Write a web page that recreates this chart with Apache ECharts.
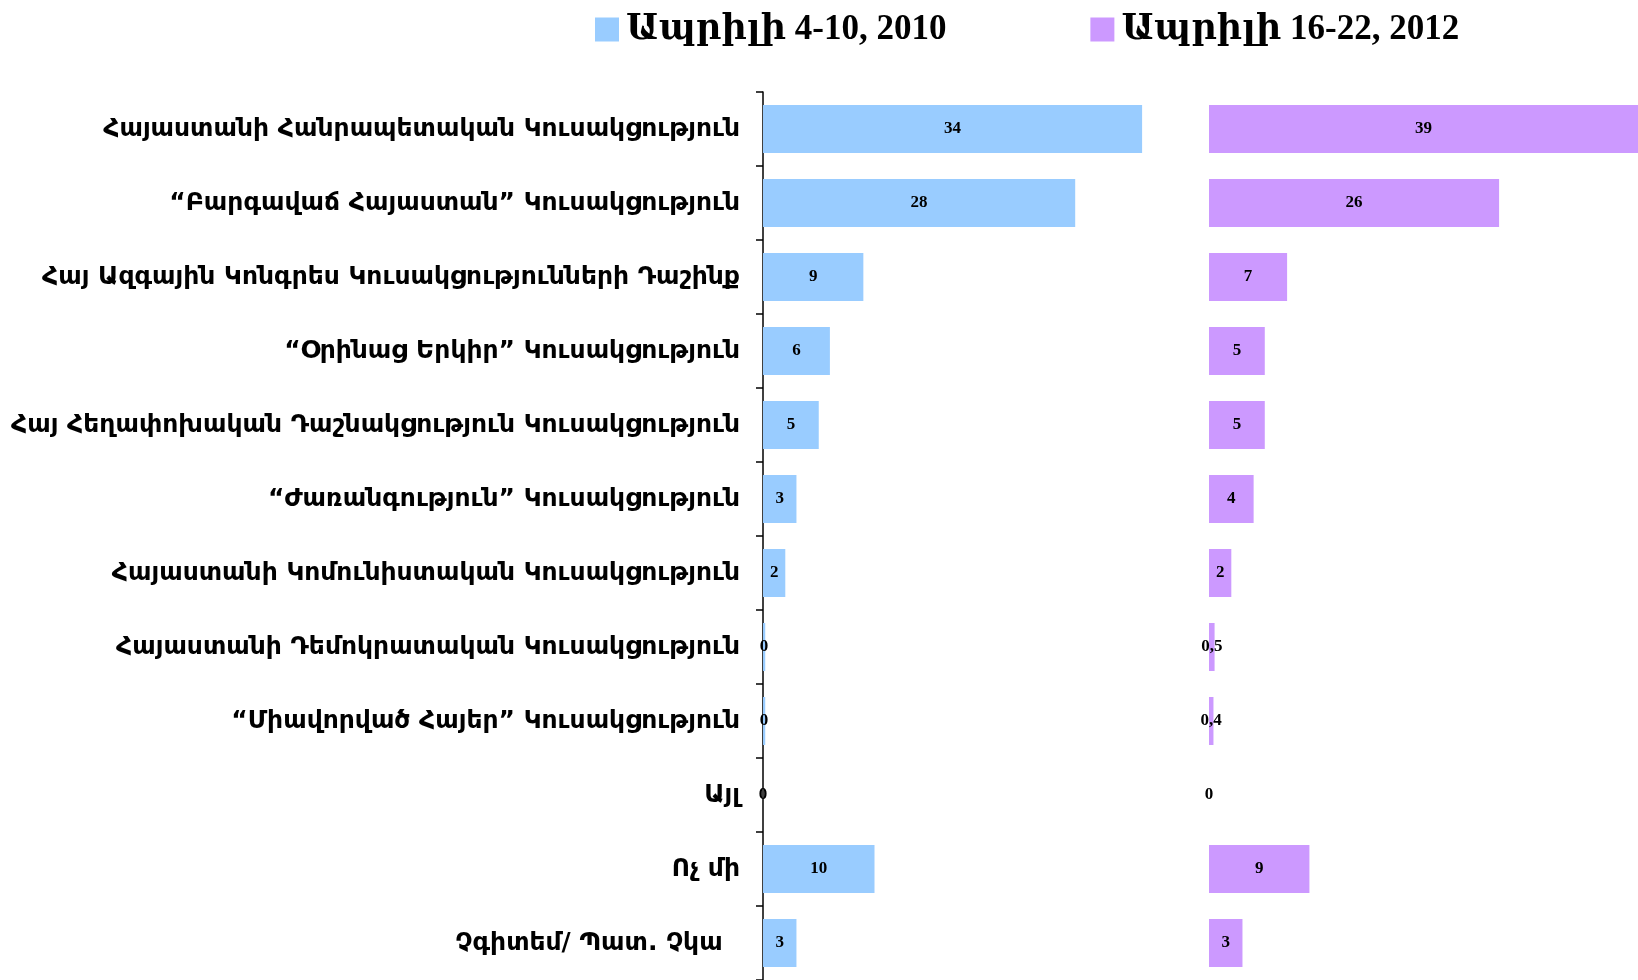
<!DOCTYPE html>
<html>
<head>
<meta charset="utf-8">
<script src="https://cdn.jsdelivr.net/npm/echarts@6/dist/echarts.min.js"></script>
<style>
  html, body { margin: 0; padding: 0; background: #fff; }
  #main { width: 1638px; height: 980px; }
</style>
</head>
<body>
<div id="main"></div>
<script>
// կուսակցություններ
var parties = [
    'Հայաստանի Հանրապետական Կուսակցություն',
    '“Բարգավաճ Հայաստան” Կուսակցություն',
    'Հայ Ազգային Կոնգրես Կուսակցությունների Դաշինք',
    '“Օրինաց Երկիր” Կուսակցություն',
    'Հայ Հեղափոխական Դաշնակցություն Կուսակցություն',
    '“Ժառանգություն” Կուսակցություն',
    'Հայաստանի Կոմունիստական Կուսակցություն',
    'Հայաստանի Դեմոկրատական Կուսակցություն',
    '“Միավորված Հայեր” Կուսակցություն',
    'Այլ',
    'Ոչ մի',
    'Չգիտեմ/ Պատ. Չկա  '
];
var seriesNames = ['Ապրիլի 4-10, 2010', 'Ապրիլի 16-22, 2012'];
var values2010 = [34, 28, 9, 6, 5, 3, 2, 0.2, 0.2, 0, 10, 3];
var values2012 = [39, 26, 7, 5, 5, 4, 2, 0.5, 0.4, 0, 9, 3];

(function () {
    'use strict';
    var myChart = echarts.init(document.getElementById('main'));

    var labelStyle = {
        show: true,
        position: 'inside',
        color: '#000',
        fontFamily: '"Liberation Serif", "Times New Roman", serif',
        fontWeight: 'bold',
        fontSize: 17
    };

    var option = {
        animation: false,
        legend: {
            left: 590,
            top: 7,
            itemWidth: 24,
            itemHeight: 24,
            itemGap: 144,
            icon: 'rect',
            textStyle: {
                color: '#000',
                fontFamily: '"Liberation Serif", "DejaVu Serif", serif',
                fontWeight: 'bold',
                fontSize: 35,
                padding: [0, 0, 0, 2]
            },
            data: seriesNames
        },
        grid: [
            { left: 763, top: 92, width: 446, height: 888 },
            // 39 դուրս է գալիս պատկերից
            { left: 1209, top: 92, right: 0, height: 888 }
        ],
        xAxis: [
            { gridIndex: 0, type: 'value', min: 0, max: 40, show: false },
            { gridIndex: 1, type: 'value', min: 0, max: 38.45, show: false }
        ],
        yAxis: [
            {
                gridIndex: 0,
                type: 'category',
                inverse: true,
                data: parties,
                axisLine: { show: true, lineStyle: { color: '#000', width: 1.5 } },
                axisTick: { show: true, length: 7, lineStyle: { color: '#000', width: 1.5 } },
                axisLabel: {
                    margin: 23,
                    color: '#000',
                    fontFamily: '"DejaVu Sans", sans-serif',
                    fontWeight: 'bold',
                    fontSize: 25,
                    padding: [4, 0, 0, 0]
                }
            },
            { gridIndex: 1, type: 'category', inverse: true, data: parties, show: false }
        ],
        series: [
            {
                name: seriesNames[0],
                type: 'bar',
                xAxisIndex: 0,
                yAxisIndex: 0,
                barWidth: 48,
                itemStyle: { color: '#99CCFF' },
                label: Object.assign({}, labelStyle, {
                    formatter: function (p) { return String(Math.round(p.value)); }
                }),
                data: values2010
            },
            {
                name: seriesNames[1],
                type: 'bar',
                xAxisIndex: 1,
                yAxisIndex: 1,
                barWidth: 48,
                itemStyle: { color: '#CC99FF' },
                label: Object.assign({}, labelStyle, {
                    formatter: function (p) { return String(p.value).replace('.', ','); }
                }),
                data: values2012
            }
        ]
    };

    myChart.setOption(option);
    window.addEventListener('resize', function () {
        myChart.resize();
    });
})();
</script>
</body>
</html>
